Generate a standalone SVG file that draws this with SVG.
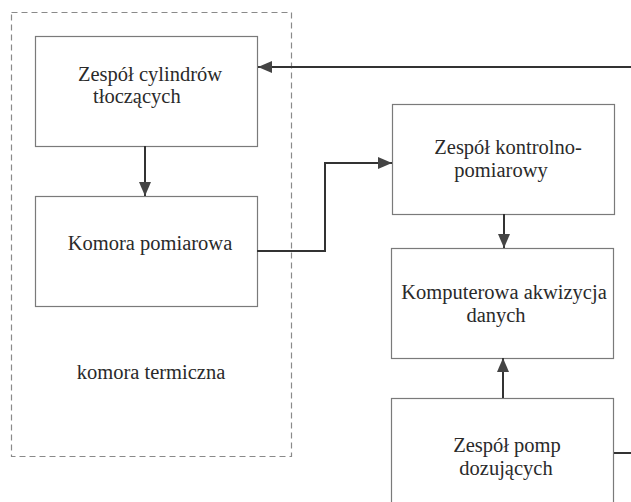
<svg xmlns="http://www.w3.org/2000/svg" width="631" height="502" viewBox="0 0 631 502">
<style>
.box{fill:#fff;stroke:#7a7a7a;stroke-width:1.2}
.frame{fill:none;stroke:#8a8a8a;stroke-width:1.2;stroke-dasharray:6 4}
.conn{fill:none;stroke:#333;stroke-width:2}
text{font-family:"Liberation Serif","Times New Roman","DejaVu Serif",serif;font-size:20.5px;fill:#2a2a2a}
.c{text-anchor:middle}
</style>
<defs>
<marker id="ah" viewBox="0 0 14 12" refX="14" refY="6" markerWidth="14" markerHeight="12" markerUnits="userSpaceOnUse" orient="auto">
<path d="M0,0 L14,6 L0,12 Z" fill="#444"/>
</marker>
</defs>
<rect width="631" height="502" fill="#fff"/>
<g id="komora-termiczna">
<rect class="frame" x="11.5" y="12.5" width="280" height="444"/>
<text class="c" x="151" y="379">komora termiczna</text>
</g>
<g id="cylindry">
<rect class="box" x="35.5" y="36.5" width="222" height="110"/>
<text x="78" y="81">Zespół cylindrów</text>
<text x="93" y="103">tłoczących</text>
</g>
<g id="komora-pomiarowa">
<rect class="box" x="35.5" y="196.5" width="222" height="110"/>
<text class="c" x="150" y="250">Komora pomiarowa</text>
</g>
<g id="kontrolno">
<rect class="box" x="392.5" y="104.5" width="222" height="110"/>
<text class="c" x="508" y="154">Zespół kontrolno-</text>
<text class="c" x="501" y="177">pomiarowy</text>
</g>
<g id="akwizycja">
<rect class="box" x="391.5" y="248.5" width="222" height="110"/>
<text class="c" x="504" y="299">Komputerowa akwizycja</text>
<text class="c" x="496" y="322">danych</text>
</g>
<g id="pompy">
<rect class="box" x="391.5" y="398.5" width="222" height="110"/>
<text class="c" x="507" y="452">Zespół pomp</text>
<text class="c" x="506" y="475">dozujących</text>
</g>
<g id="connectors">
<path class="conn" d="M631,67 L258,67" marker-end="url(#ah)"/>
<path class="conn" d="M145,146 L145,196" marker-end="url(#ah)"/>
<path class="conn" d="M257,251 L325,251 L325,163 L392,163" marker-end="url(#ah)"/>
<path class="conn" d="M504,214 L504,248" marker-end="url(#ah)"/>
<path class="conn" d="M503,398 L503,358" marker-end="url(#ah)"/>
<path class="conn" d="M614,453 L631,453"/>
</g>
</svg>
